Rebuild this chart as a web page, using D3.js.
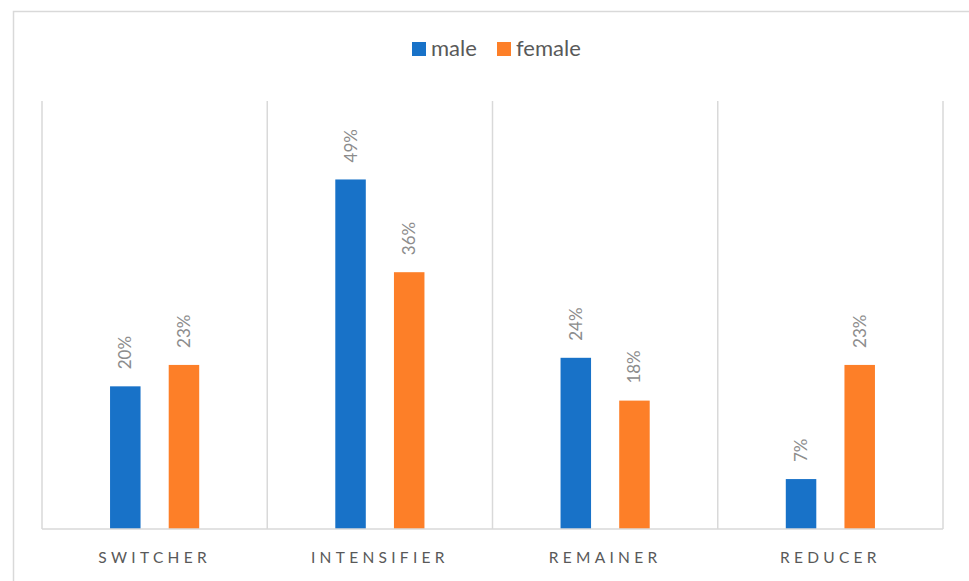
<!DOCTYPE html>
<html>
<head>
<meta charset="utf-8">
<script src="https://cdn.jsdelivr.net/npm/d3@7"></script>
<style>
  body { margin: 0; background: #fff; }
  svg { display: block; font-family: Lato, "Open Sans", sans-serif; }
</style>
</head>
<body>
<svg id="chart" width="969" height="581"></svg>
<script>
// chart data
const categories = ["SWITCHER", "INTENSIFIER", "REMAINER", "REDUCER"]
const seriesNames = ["male", "female"]
const maleValues = [0.20, 0.49, 0.24, 0.07]
const femaleValues = [0.23, 0.36, 0.18, 0.23]
const colors = ["#1872c8", "#fd7f28"]

const svg = d3.select("#chart")
const margin = { left: 42, right: 26, top: 101, bottom: 52 }
const width = 969
const height = 581

// outer frame
svg.append("rect")
  .attr("x", 13.5).attr("y", 11.5)
  .attr("width", 980).attr("height", 600)
  .attr("fill", "none").attr("stroke", "#d9d9d9").attr("stroke-width", 1.5)

const x = d3.scaleBand()
  .domain(categories)
  .range([margin.left, width - margin.right])

const inner = d3.scaleBand()
  .domain(seriesNames)
  .range([0, x.bandwidth()])
  .paddingInner(0.48)
  .paddingOuter(1.16)

const y = d3.scaleLinear()
  .domain([0, 0.6])
  .range([height - margin.bottom, margin.top])

// vertical separators between categories
const edges = categories.map((c) => x(c)).concat([x.range()[1]])
svg.selectAll(".sep")
  .data(edges)
  .enter().append("line")
  .attr("x1", (d) => d).attr("x2", (d) => d)
  .attr("y1", y(0.6)).attr("y2", y(0))
  .attr("stroke", "#d9d9d9").attr("stroke-width", 1.5)

const rows = categories.map((c, i) => ({
  cat: c,
  vals: [maleValues[i], femaleValues[i]]
}))

const groups = svg.selectAll(".grp")
  .data(rows)
  .enter().append("g")
  .attr("transform", (d) => `translate(${x(d.cat)},0)`)

groups.selectAll("rect")
  .data((d) => d.vals.map((v, j) => ({ v, s: seriesNames[j], j })))
  .enter().append("rect")
  .attr("x", (d) => inner(d.s))
  .attr("width", inner.bandwidth())
  .attr("y", (d) => y(d.v))
  .attr("height", (d) => y(0) - y(d.v))
  .attr("fill", (d) => colors[d.j])

// value labels, rotated
groups.selectAll(".lbl")
  .data((d) => d.vals.map((v, j) => ({ v, s: seriesNames[j] })))
  .enter().append("text")
  .attr("transform", (d) => `translate(${inner(d.s) + inner.bandwidth() / 2 + 6},${y(d.v) - 17}) rotate(-90)`)
  .attr("font-size", 17)
  .attr("fill", "#8c8c8c")
  .text((d) => d3.format(".0%")(d.v))

// baseline
svg.append("line")
  .attr("x1", margin.left).attr("x2", width - margin.right)
  .attr("y1", y(0)).attr("y2", y(0))
  .attr("stroke", "#d9d9d9").attr("stroke-width", 1.5)

// category labels
svg.selectAll(".cat")
  .data(categories)
  .enter().append("text")
  .attr("x", (d) => x(d) + x.bandwidth() / 2)
  .attr("y", 563)
  .attr("text-anchor", "middle")
  .attr("font-size", 15.5)
  .attr("letter-spacing", "4.3px")
  .attr("fill", "#595959")
  .text((d) => d)

// legend
const legend = svg.append("g")
const legendX = [412, 497]
seriesNames.forEach((name, i) => {
  legend.append("rect")
    .attr("x", legendX[i]).attr("y", 42)
    .attr("width", 14).attr("height", 14)
    .attr("fill", colors[i])
  legend.append("text")
    .attr("x", legendX[i] + 19).attr("y", 56)
    .attr("font-size", 22)
    .attr("fill", "#595959")
    .text(name)
})
</script>
</body>
</html>
